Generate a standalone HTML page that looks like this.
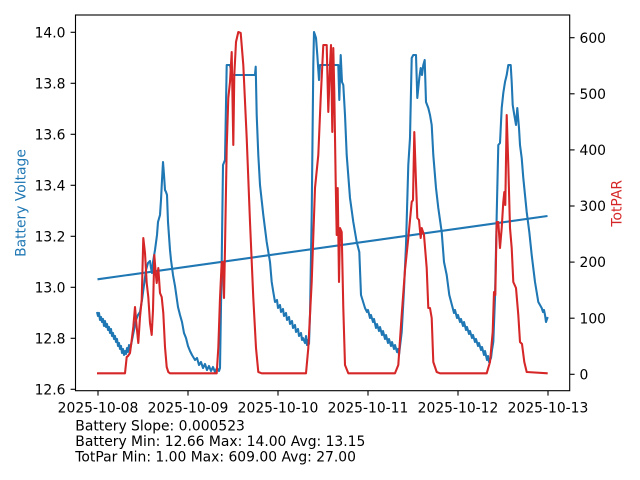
<!DOCTYPE html>
<html><head><meta charset="utf-8"><style>
html,body{margin:0;padding:0;background:#fff;}
svg{display:block;font-family:"DejaVu Sans","Liberation Sans",sans-serif;}
</style></head><body>
<svg width="640" height="480" viewBox="0 0 640 480" xmlns="http://www.w3.org/2000/svg">
<rect width="640" height="480" fill="#fff"/>
<!-- blue battery -->
<polyline fill="none" stroke="#1f77b4" stroke-width="2.08" stroke-linejoin="round" points="97,312 98,316 99,313 100,320 101,317 102,322 103,319 104,326 105,321 106,327 107,324 108,330 109,327 110,333 111,329 112,336 113,333 114,339 115,336 116,342 117,339 118,346 119,343 120,349 121,346 122,353 123,349 124,355 125,351 126,354 127,348 128,352 129,345 130,350 132,340 134,330 136,320 138,315 140,312 142,300 144,285 146,270 148,263 150,261 151,268 152,273 153,262 155,250 157,235 158,222 160,215 161,200 162,180 163,162 164,175 165,190 166,192 167,195 168,222 170,250 171,260 173,275 175,286 177,300 178,307 180,315 182,322 184,333 186,338 188,346 190,351 192,355 195,360 197,358 199,365 201,362 203,368 205,364 207,370 209,366 211,371 213,367 215,372 217,368 219,371 220,368 221.7,262 223,165 225,160 226.7,65 230,65 231.7,75 255,75 255.7,66.7 256.7,115 258.3,155 260,185 263.3,215 266.7,242 270,262 271.7,282 273.3,292 275,302 277,300 278,308 280,305 281,312 283,309 284,316 286,313 287,320 289,317 290,324 292,321 293,328 295,325 296,332 298,329 299,336 301,333 302,340 303,338 305,343 306,336 307,345 308,340 309,344 310,315 311.7,215 313.3,65 314,32 316,38 317.3,55 319,80 320,65 338.3,65 339.3,100 340.7,55 342,82 343.3,85 345,115 346.7,155 350,198 353.3,222 356.7,242 359.3,252 361,295 365,308 367,312 368,310 370,318 371,315 373,322 374,319 376,328 377,324 379,331 380,327 382,335 383,331 385,339 386,335 388,343 389,339 391,346 392,342 394,349 395,345 397,352 398,349 399,355 401.7,332 404,290 406,245 408.3,165 410,138 411.7,58 413.3,55 416,55 417.3,98 419.3,78 420.7,68 422,75 423.3,65 424.7,60 426,102 428.3,108 430,115 431.7,125 433.3,155 436,188 438.3,208 441.7,232 444,262 446.7,275 449.3,295 452.7,308 454,313 455,310 457,318 458,315 460,322 461,319 463,326 464,322 466,330 467,327 469,334 470,331 472,338 473,335 475,342 476,339 478,346 479,343 481,350 482,347 484,355 485,351 487,360 488,356 489,362 491,358 492,350 493.3,342 495,298 496.7,215 498.3,145 500,143 501.7,108 503.3,93 505,82 506.7,75 508.3,65 510.7,65 511.7,82 512.7,105 514.3,115 516,125 517.3,108 519,128 520,145 521.7,158 523.3,178 526.7,212 529.3,232 531.7,255 535,282 538.3,302 540,305 541.7,308 543,312 544,310 545,315 546,322 547.7,317"/>
<!-- trend -->
<line x1="97.5" y1="279.3" x2="547.5" y2="216" stroke="#1f77b4" stroke-width="2.08"/>
<!-- red TotPAR -->
<polyline fill="none" stroke="#d62728" stroke-width="2.08" stroke-linejoin="round" points="97,373.3 125,373.3 126.7,357 128,356 130,353 131.7,340 133.3,327 135,307 136.7,327 138.3,343 140,317 141.7,300 143.3,238 145,253 146.7,283 148.3,297 150,323 151.7,335 153,310 154.3,255 155.7,273 156.7,283 158.3,268 160,293 161.7,297 163.3,313 165,347 166.7,367 168.3,372 170,373.3 216.7,373.3 218.3,348 220,298 221.7,262 222.7,262 224,298 225,248 226.7,148 228.3,98 230,82 231.7,52 233.3,145 234.3,75 236,42 238.3,32 240.7,33 243.3,65 246.7,138 250,222 253.3,298 256,348 258.3,372 261.7,373.3 306,373.3 308.3,348 311.7,282 315,188 318.3,155 320.7,98 323.3,45 326.7,45 328.3,112 330,65 331,45 332.3,132 333.3,48 334.3,92 335.7,182 336.7,235 337.7,188 339,282 340,228 341.7,232 343.3,308 345,365 348.3,373.3 395,373.3 398.3,365 401.7,315 405,270 408.3,238 411.7,202 413,200 414.3,132 416,182 417.3,218 419,220 420.7,238 421.7,228 424,235 426.7,268 428.3,308 430,308 431.7,318 433.3,362 436.7,372 440,373.3 486.7,373.3 490,362 492.7,332 494,292 495.3,295 496.7,222 498.3,222 500,248 501.7,228 503.3,202 504.3,192 505.3,205 506.7,115 508.3,165 510,228 511.7,248 513.3,282 516,288 518.3,315 520,342 522,344 524.3,362 526.7,372 547.7,373.3"/>
<!-- spines -->
<rect x="75.5" y="15" width="494.2" height="375.7" fill="none" stroke="#000" stroke-width="1.11"/>
<!-- left ticks -->
<g stroke="#000" stroke-width="1.11">
<line x1="70.6" y1="32.3" x2="75.5" y2="32.3"/>
<line x1="70.6" y1="83.3" x2="75.5" y2="83.3"/>
<line x1="70.6" y1="134.3" x2="75.5" y2="134.3"/>
<line x1="70.6" y1="185.3" x2="75.5" y2="185.3"/>
<line x1="70.6" y1="236.3" x2="75.5" y2="236.3"/>
<line x1="70.6" y1="287.3" x2="75.5" y2="287.3"/>
<line x1="70.6" y1="338.3" x2="75.5" y2="338.3"/>
<line x1="70.6" y1="389.3" x2="75.5" y2="389.3"/>
<line x1="569.7" y1="374.3" x2="574.6" y2="374.3"/>
<line x1="569.7" y1="318.2" x2="574.6" y2="318.2"/>
<line x1="569.7" y1="262.1" x2="574.6" y2="262.1"/>
<line x1="569.7" y1="206" x2="574.6" y2="206"/>
<line x1="569.7" y1="149.9" x2="574.6" y2="149.9"/>
<line x1="569.7" y1="93.8" x2="574.6" y2="93.8"/>
<line x1="569.7" y1="37.7" x2="574.6" y2="37.7"/>
<line x1="98" y1="390.7" x2="98" y2="395.6"/>
<line x1="188" y1="390.7" x2="188" y2="395.6"/>
<line x1="278" y1="390.7" x2="278" y2="395.6"/>
<line x1="368" y1="390.7" x2="368" y2="395.6"/>
<line x1="458" y1="390.7" x2="458" y2="395.6"/>
<line x1="548" y1="390.7" x2="548" y2="395.6"/>
</g>
<g font-size="13.89" fill="#000" text-anchor="end">
<text x="65.5" y="37.4">14.0</text>
<text x="65.5" y="88.4">13.8</text>
<text x="65.5" y="139.4">13.6</text>
<text x="65.5" y="190.4">13.4</text>
<text x="65.5" y="241.4">13.2</text>
<text x="65.5" y="292.4">13.0</text>
<text x="65.5" y="343.4">12.8</text>
<text x="65.5" y="394.4">12.6</text>
</g>
<g font-size="13.89" fill="#000" text-anchor="start">
<text x="579.5" y="379.4">0</text>
<text x="579.5" y="323.3">100</text>
<text x="579.5" y="267.2">200</text>
<text x="579.5" y="211.1">300</text>
<text x="579.5" y="155">400</text>
<text x="579.5" y="98.9">500</text>
<text x="579.5" y="42.8">600</text>
</g>
<g font-size="13.89" fill="#000" text-anchor="middle">
<text x="98" y="412.5">2025-10-08</text>
<text x="188" y="412.5">2025-10-09</text>
<text x="278" y="412.5">2025-10-10</text>
<text x="368" y="412.5">2025-10-11</text>
<text x="458" y="412.5">2025-10-12</text>
<text x="548" y="412.5">2025-10-13</text>
</g>
<text font-size="13.89" fill="#1f77b4" text-anchor="middle" transform="translate(25.7,203) rotate(-90)">Battery Voltage</text>
<text font-size="13.89" fill="#d62728" text-anchor="middle" transform="translate(621.7,203.3) rotate(-90)">TotPAR</text>
<g font-size="13.89" fill="#000">
<text x="75.3" y="430.7">Battery Slope: 0.000523</text>
<text x="75.3" y="446.2">Battery Min: 12.66 Max: 14.00 Avg: 13.15</text>
<text x="75.3" y="461.7">TotPar Min: 1.00 Max: 609.00 Avg: 27.00</text>
</g>
</svg>
</body></html>
